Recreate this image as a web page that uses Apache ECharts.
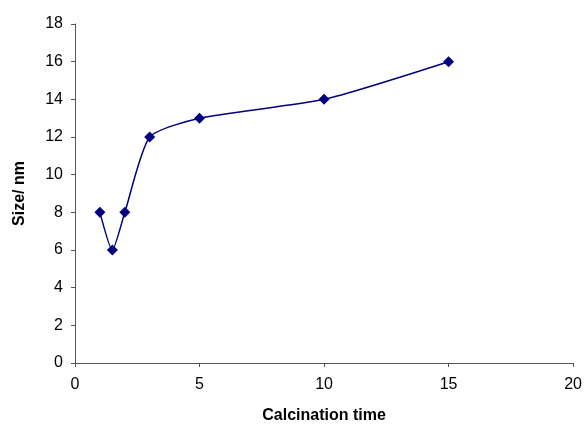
<!DOCTYPE html>
<html><head><meta charset="utf-8">
<script src="https://cdn.jsdelivr.net/npm/echarts@6/dist/echarts.min.js"></script>
<style>html,body{margin:0;padding:0;background:#fff}#c{width:585px;height:430px}</style>
</head><body><div id="c"></div>
<script>
const xValues = [1, 1.5, 2, 3, 5, 10, 15];
const sizeValues = [8, 6, 8, 12, 13, 14, 16];
const xTitle = 'Calcination time';
const yTitle = 'Size/ nm';

const chart = echarts.init(document.getElementById('c'));
const font = 'Arial, "Liberation Sans", sans-serif';
chart.setOption({
  animation: false,
  backgroundColor: '#fff',
  grid: {left: 75, right: 10, top: 24, bottom: 67},
  xAxis: {
    type: 'value', min: 0, max: 20, interval: 5,
    name: xTitle, nameLocation: 'middle', nameGap: 45,
    nameTextStyle: {fontFamily: font, fontWeight: 'bold', fontSize: 16, color: '#000'},
    axisLine: {lineStyle: {color: '#555', width: 1}},
    axisTick: {show: true, length: 4, lineStyle: {color: '#555'}},
    axisLabel: {fontFamily: font, fontSize: 16, color: '#000', margin: 14},
    splitLine: {show: false}
  },
  yAxis: {
    type: 'value', min: 0, max: 18, interval: 2,
    name: yTitle, nameLocation: 'middle', nameGap: 47, nameRotate: 90,
    nameTextStyle: {fontFamily: font, fontWeight: 'bold', fontSize: 16, color: '#000'},
    axisLine: {show: true, lineStyle: {color: '#555', width: 1}},
    axisTick: {show: true, length: 4, lineStyle: {color: '#555'}},
    axisLabel: {fontFamily: font, fontSize: 16, color: '#000', margin: 12},
    splitLine: {show: false}
  },
  series: [{
    type: 'line',
    data: xValues.map((x, i) => [x, sizeValues[i]]),
    smooth: 0.2,
    symbol: 'diamond', symbolSize: 11,
    lineStyle: {color: '#000080', width: 1.5},
    itemStyle: {color: '#000080'}
  }]
});
</script></body></html>
